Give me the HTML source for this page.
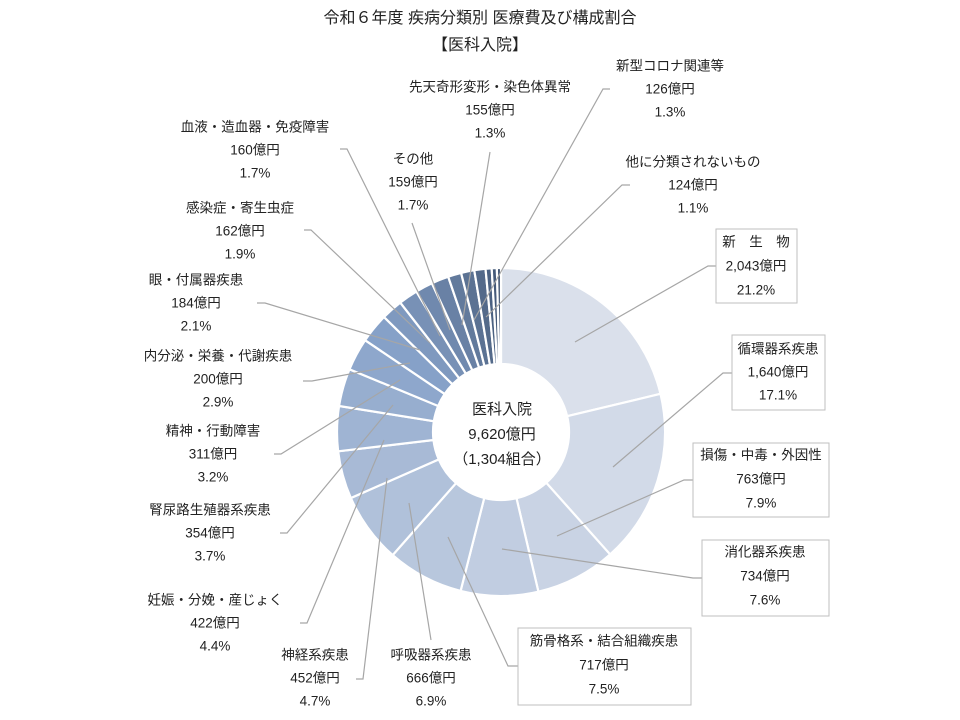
<!DOCTYPE html>
<html><head><meta charset="utf-8"><style>
html,body{margin:0;padding:0;background:#fff;}
svg{display:block;}
text{font-family:"Liberation Sans","Noto Sans CJK JP",sans-serif;fill:#222;font-size:13.5px;text-anchor:middle;dominant-baseline:middle;}
.t{font-size:16px;}
</style></head><body>
<svg id="s" width="960" height="720" viewBox="0 0 960 720" xmlns="http://www.w3.org/2000/svg">
<g id="pie"></g>
<g stroke="#a6a6a6" stroke-width="1.2" fill="none">
<polyline points="575,342 708,266 716,266"/>
<polyline points="613,467 723,373 732,373"/>
<polyline points="557,536 684,480 693,480"/>
<polyline points="502,549 693,578 702,578"/>
<polyline points="448,537 508,666 518,666"/>
<polyline points="409,503 431,640"/>
<polyline points="387,478 363,679 356,679"/>
<polyline points="384,440 307,623 300,623"/>
<polyline points="393,405 287,533 280,533"/>
<polyline points="400,380 281,454 274,454"/>
<polyline points="410,363 312,381 303,381"/>
<polyline points="420,350 265,303 257,303"/>
<polyline points="430,343 311,230 304,230"/>
<polyline points="440,336 347,149 340,149"/>
<polyline points="450,330 412,223"/>
<polyline points="462,325 490,152"/>
<polyline points="474,320 603,89 610,89"/>
<polyline points="486,317 622,185 630,185"/>
</g>
<g fill="#fff" stroke="#bfbfbf" stroke-width="1">
<rect x="716" y="229" width="81" height="74"/>
<rect x="732" y="335" width="93" height="75"/>
<rect x="693" y="443" width="136" height="74"/>
<rect x="702" y="540" width="127" height="76"/>
<rect x="518" y="628" width="173" height="77"/>
</g>
<text class="t" x="480" y="19">令和６年度 疾病分類別 医療費及び構成割合</text>
<text class="t" x="480" y="46">【医科入院】</text>
<g id="labels"></g>
</svg>
<script>
var cx=501,cy=432,R=164,r=68;
var v=[21.2,17.1,7.9,7.6,7.5,6.9,4.7,4.4,3.7,3.2,2.9,2.1,1.9,1.7,1.7,1.3,1.3,1.1,0.6,0.5,0.4];
var tot=0;v.forEach(function(x){tot+=x});
var stops=[[0,[218,224,235]],[0.5,[134,161,200]],[1,[62,82,112]]];
function col(t){var a,b;if(t<=0.5){a=stops[0];b=stops[1];}else{a=stops[1];b=stops[2];}
var u=(t-a[0])/(b[0]-a[0]);var c=a[1].map(function(x,i){return Math.round(x+(b[1][i]-x)*u)});return 'rgb('+c.join(',')+')';}
var g=document.getElementById('pie'),h='',ang=0;
function pt(rad,a){return [(cx+rad*Math.sin(a)).toFixed(2),(cy-rad*Math.cos(a)).toFixed(2)];}
v.forEach(function(x,i){var a0=ang,a1=ang+x/tot*2*Math.PI;ang=a1;var lg=(a1-a0)>Math.PI?1:0;
var p0=pt(R,a0),p1=pt(R,a1),q1=pt(r,a1),q0=pt(r,a0);
h+='<path d="M'+p0+' A'+R+','+R+' 0 '+lg+' 1 '+p1+' L'+q1+' A'+r+','+r+' 0 '+lg+' 0 '+q0+' Z" fill="'+col(i/(v.length-1))+'" stroke="#fff" stroke-width="2.2"/>';});
g.innerHTML=h;
var L=[[502,410,'医科入院','9,620億円','（1,304組合）',25],
[490,88,'先天奇形変形・染色体異常','155億円','1.3%',23],
[670,67,'新型コロナ関連等','126億円','1.3%',23],
[255,128,'血液・造血器・免疫障害','160億円','1.7%',23],
[413,160,'その他','159億円','1.7%',23],
[693,163,'他に分類されないもの','124億円','1.1%',23],
[240,209,'感染症・寄生虫症','162億円','1.9%',23],
[756,243,'新　生　物','2,043億円','21.2%',24],
[196,281,'眼・付属器疾患','184億円','2.1%',23],
[218,357,'内分泌・栄養・代謝疾患','200億円','2.9%',23],
[778,350,'循環器系疾患','1,640億円','17.1%',23],
[213,432,'精神・行動障害','311億円','3.2%',23],
[761,456,'損傷・中毒・外因性','763億円','7.9%',24],
[210,511,'腎尿路生殖器系疾患','354億円','3.7%',23],
[765,553,'消化器系疾患','734億円','7.6%',24],
[215,601,'妊娠・分娩・産じょく','422億円','4.4%',23],
[604,642,'筋骨格系・結合組織疾患','717億円','7.5%',24],
[315,656,'神経系疾患','452億円','4.7%',23],
[431,656,'呼吸器系疾患','666億円','6.9%',23]];
var s='';L.forEach(function(l){var sz=l[0]==502?'style="font-size:15px"':'';for(var k=0;k<3;k++)s+='<text '+sz+' x="'+l[0]+'" y="'+(l[1]+k*l[5])+'">'+l[2+k]+'</text>';});
document.getElementById('labels').innerHTML=s;
</script>
</body></html>
